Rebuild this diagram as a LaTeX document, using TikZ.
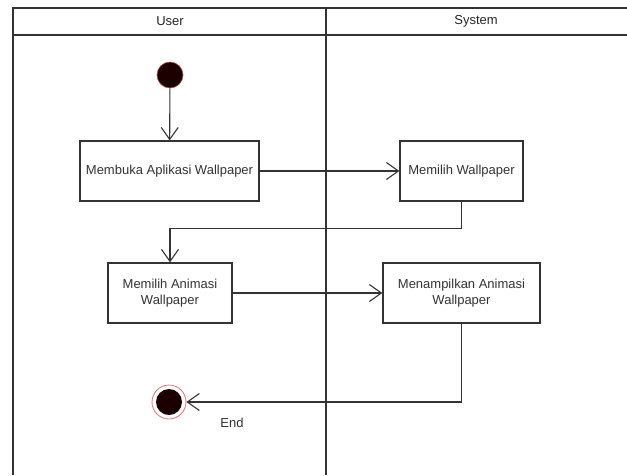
\documentclass[tikz,border=0pt]{standalone}
\usepackage{fontspec}
\setmainfont{Liberation Sans}
\usepackage[HTML]{xcolor}
\usetikzlibrary{positioning, arrows, arrows.meta}

\definecolor{lineGray}{HTML}{333333}
\definecolor{textGray}{HTML}{333333}
\definecolor{dotRed}{HTML}{1C0000}
\definecolor{ringRed}{HTML}{E07070}

\begin{document}
\begin{tikzpicture}[
    x=1pt, y=-1pt,
    every node/.style={font=\fontsize{13}{15.5}\selectfont, text=textGray}, % same text for all nodes
    action/.style={draw=lineGray, line width=1.3pt, rectangle, align=center, inner sep=2pt},
    flow/.style={draw=lineGray, line width=1.1pt, -{Straight Barb[length=12pt, width=17pt, line width=1.1pt]}},
    lane/.style={draw=black!80, line width=1.8pt},
    laneTitle/.style={font=\fontsize{13}{15.5}\selectfont, text=black!85}
]
    \useasboundingbox (0,0) rectangle (627,475);

    % Swimlane frame (open at the right and bottom)
    \draw[lane] (627,8) -- (13,8) -- (13,475);
    \draw[lane] (13,35) -- (627,35);
    \draw[lane] (326,8) -- (326,475);
    \node (userLane) at (170,21) [laneTitle] {User};
    \node (systemLane) at (476,21) [laneTitle] {System};

    % Start node
    \node (start) at (170,75) [circle, minimum size=26pt, inner sep=0pt,
        fill=dotRed, draw=ringRed!70!black, line width=0.6pt] {};

    % Actions in the User lane
    \node (openApp) at (169.5,171) [action, minimum width=179pt, minimum height=60pt]
        {Membuka Aplikasi Wallpaper};
    \node (pickAnim) at (170,293) [action, minimum width=124pt, minimum height=60pt]
        {Memilih Animasi\\Wallpaper};

    % Actions in the System lane
    \node (pickWall) at (461.5,171) [action, minimum width=123pt, minimum height=60pt]
        {Memilih Wallpaper};
    \node (showAnim) at (461.5,293) [action, minimum width=157pt, minimum height=60pt]
        {Menampilkan Animasi\\Wallpaper};

    % End node (ring with a dot inside)
    \node (finish) at (169,402) [circle, minimum size=34pt, inner sep=0pt,
        draw=ringRed, line width=0.8pt,
        path picture={\fill[dotRed] (path picture bounding box.center) circle (13pt);}] {};
    \node (endLabel) at (232,423) {End};

    % 1. start to first action
    \draw[flow] (start) -- (openApp);

    % 2. open app to choose wallpaper
    \draw[flow] (openApp) -- (pickWall);

    % 3. choose wallpaper back to the User lane
    \draw[flow] (pickWall.south) -- ++(0,27) -| (pickAnim.north);

    % 4. choose animation to show animation
    \draw[flow] (pickAnim) -- (showAnim);

    % 5. show animation to end
    \draw[flow] (showAnim.south) |- (finish);

\end{tikzpicture}
\end{document}
